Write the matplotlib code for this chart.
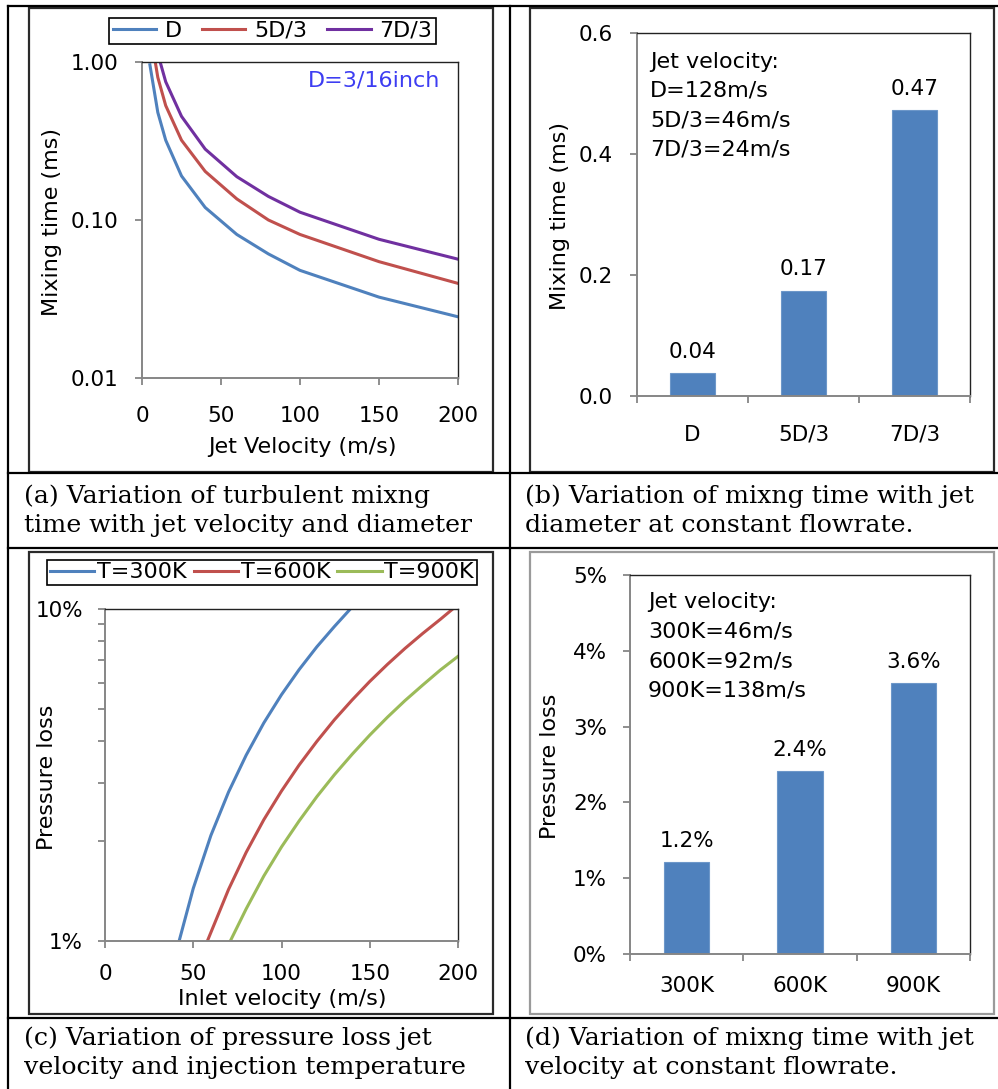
import matplotlib
matplotlib.use("Agg")
import matplotlib.pyplot as plt
from matplotlib.patches import Rectangle
from matplotlib.lines import Line2D
from matplotlib.ticker import FixedLocator, NullLocator, FixedFormatter, NullFormatter

# ---------------- data ----------------
# (a) mixing time vs jet velocity
vel_a = [5, 10, 15, 25, 40, 60, 80, 100, 150, 200]
mix_D = [0.96, 0.48, 0.32, 0.19, 0.12, 0.081, 0.061, 0.048, 0.0325, 0.0244]
mix_5D3 = [1.6, 0.8, 0.53, 0.32, 0.203, 0.136, 0.1, 0.081, 0.0545, 0.0397]
mix_7D3 = [2.25, 1.13, 0.75, 0.453, 0.281, 0.188, 0.141, 0.112, 0.0755, 0.0565]
names_a = ["D", "5D/3", "7D/3"]
yticks_a = [0.01, 0.1, 1.0]
yticklabels_a = ["0.01", "0.10", "1.00"]
xticks_ac = [0, 50, 100, 150, 200]

# (b) mixing time vs jet diameter
cats_b = ["D", "5D/3", "7D/3"]
vals_b = [0.038, 0.174, 0.473]
labels_b = ["0.04", "0.17", "0.47"]
yticks_b = [0.0, 0.2, 0.4, 0.6]
note_b = ["Jet velocity:", "D=128m/s", "5D/3=46m/s", "7D/3=24m/s"]

# (c) pressure loss vs inlet velocity (percent)
vel_300 = [42, 50, 60, 70, 80, 90, 100, 110, 120, 130, 139]
loss_300 = [1.0, 1.44, 2.08, 2.81, 3.63, 4.54, 5.52, 6.57, 7.69, 8.86, 10.0]
vel_600 = [58, 70, 80, 90, 100, 110, 120, 130, 140, 150, 160, 170, 180, 190, 197]
loss_600 = [1.0, 1.43, 1.85, 2.32, 2.83, 3.39, 3.99, 4.64, 5.32, 6.05, 6.81, 7.61, 8.44, 9.31, 10.0]
vel_900 = [71, 80, 90, 100, 110, 120, 130, 140, 150, 160, 170, 180, 190, 200]
loss_900 = [1.0, 1.25, 1.57, 1.92, 2.3, 2.72, 3.17, 3.65, 4.17, 4.72, 5.3, 5.9, 6.55, 7.2]
names_c = ["T=300K", "T=600K", "T=900K"]

# (d) pressure loss vs injection temperature (percent)
cats_d = ["300K", "600K", "900K"]
vals_d = [1.21, 2.41, 3.57]
labels_d = ["1.2%", "2.4%", "3.6%"]
yticks_d = [0, 1, 2, 3, 4, 5]
note_d = ["Jet velocity:", "300K=46m/s", "600K=92m/s", "900K=138m/s"]

captions = {
    "a": ["(a) Variation of turbulent mixng", "time with jet velocity and diameter"],
    "b": ["(b) Variation of mixng time with jet", "diameter at constant flowrate."],
    "c": ["(c) Variation of pressure loss jet", "velocity and injection temperature"],
    "d": ["(d) Variation of mixng time with jet", "velocity at constant flowrate."],
}

# ---------------- styling ----------------
BLUE, RED, PURPLE, GREEN = "#4F81BD", "#C0504D", "#7030A0", "#9BBB59"
AXGRAY = "#868686"
FS_TICK = 15.5
FS = 16
FS_CAP = 18.2
plt.rcParams["font.family"] = ["DejaVu Sans"]
SERIF = ["DejaVu Serif"]

W, H = 998, 1089
fig = plt.figure(figsize=(W / 100, H / 100), dpi=100)


def rect(x0, y0, x1, y1):
    return [x0 / W, 1 - y1 / H, (x1 - x0) / W, (y1 - y0) / H]


def fx(x):
    return x / W


def fy(y):
    return 1 - y / H


def style(ax, xpad, ypad):
    for s in ["top", "right"]:
        ax.spines[s].set_color("#222222")
        ax.spines[s].set_linewidth(1.0)
    for s in ["left", "bottom"]:
        ax.spines[s].set_color(AXGRAY)
        ax.spines[s].set_linewidth(1.4)
    ax.tick_params(which="both", direction="out", color=AXGRAY, width=1.3, length=5,
                   labelsize=FS_TICK, labelcolor="black", top=False, right=False)
    ax.tick_params(axis="y", which="both", pad=ypad)
    ax.tick_params(axis="x", which="both", pad=xpad)


# ---------------- table lines & chart frames ----------------
for x in [8, 510]:
    fig.add_artist(Line2D([fx(x), fx(x)], [fy(6), fy(1089)], color="black", lw=1.6,
                          transform=fig.transFigure))
for y in [6, 473, 548, 1018]:
    fig.add_artist(Line2D([fx(8), fx(998)], [fy(y), fy(y)], color="black", lw=1.6,
                          transform=fig.transFigure))

frames = [((29, 8, 493, 472), "#2a2a2a"), ((530, 8, 994, 472), "#2a2a2a"),
          ((29, 552, 493, 1014), "#2a2a2a"), ((530, 552, 994, 1014), "#9a9a9a")]
for (x0, y0, x1, y1), c in frames:
    fig.add_artist(Rectangle((fx(x0), fy(y1)), (x1 - x0) / W, (y1 - y0) / H,
                             fill=False, edgecolor=c, lw=1.6, transform=fig.transFigure))

# ---------------- (a) ----------------
axA = fig.add_axes(rect(142, 62, 458, 378))
lines = []
for yv, c in zip([mix_D, mix_5D3, mix_7D3], [BLUE, RED, PURPLE]):
    ln, = axA.plot(vel_a, yv, color=c, lw=2.2)
    lines.append(ln)
axA.set_yscale("log")
axA.set_ylim(0.01, 1.0)
axA.set_xlim(0, 200)
axA.yaxis.set_major_locator(FixedLocator(yticks_a))
axA.yaxis.set_major_formatter(FixedFormatter(yticklabels_a))
axA.yaxis.set_minor_locator(NullLocator())
axA.set_xticks(xticks_ac)
style(axA, xpad=14.9, ypad=12.2)
legA = axA.legend(lines, names_a, loc="center", bbox_to_anchor=(fx(272.5), fy(31)),
                  bbox_transform=fig.transFigure, ncol=3, frameon=True, fancybox=False,
                  edgecolor="black", framealpha=1, fontsize=FS, handlelength=1.95,
                  handletextpad=0.4, columnspacing=0.9, borderpad=0.15, borderaxespad=0)
legA.get_frame().set_linewidth(1.2)
fig.text(fx(440), fy(81), "D=3/16inch", ha="right", va="center", color="#3d3df2", fontsize=FS)
fig.text(fx(52), fy(222), "Mixing time (ms)", rotation=90, ha="center", va="center", fontsize=FS)
fig.text(fx(302), fy(447), "Jet Velocity (m/s)", ha="center", va="center", fontsize=FS)

# ---------------- (b) ----------------
axB = fig.add_axes(rect(637, 33, 970, 396))
xb = list(range(len(cats_b)))
axB.bar(xb, vals_b, width=0.4, color=BLUE, edgecolor="#6d97c9", lw=0.8)
for i, (v, t) in enumerate(zip(vals_b, labels_b)):
    axB.annotate(t, (i, v), xytext=(0, 11), textcoords="offset points", ha="center",
                 va="baseline", fontsize=FS_TICK)
axB.set_ylim(0, 0.6)
axB.set_xlim(-0.5, 2.5)
axB.set_yticks(yticks_b)
axB.set_yticklabels([f"{t:.1f}" for t in yticks_b])
axB.set_xticks(xb)
axB.set_xticklabels(cats_b)
axB.xaxis.set_minor_locator(FixedLocator([-0.5, 0.5, 1.5, 2.5]))
style(axB, xpad=20.7, ypad=12.2)
axB.tick_params(axis="x", which="major", length=0)
for i, t in enumerate(note_b):
    fig.text(fx(650), fy(67.5 + 29.3 * i), t, ha="left", va="baseline", fontsize=FS)
fig.text(fx(560), fy(216), "Mixing time (ms)", rotation=90, ha="center", va="center", fontsize=FS)

# ---------------- (c) ----------------
axC = fig.add_axes(rect(105, 609, 458, 941))
lc = []
for xv, yv, c in zip([vel_300, vel_600, vel_900], [loss_300, loss_600, loss_900], [BLUE, RED, GREEN]):
    ln, = axC.plot(xv, yv, color=c, lw=2.2)
    lc.append(ln)
axC.set_yscale("log")
axC.set_ylim(1, 10)
axC.set_xlim(0, 200)
axC.yaxis.set_major_locator(FixedLocator([1, 10]))
axC.yaxis.set_major_formatter(FixedFormatter(["1%", "10%"]))
axC.yaxis.set_minor_locator(FixedLocator([2, 3, 4, 5, 6, 7, 8, 9]))
axC.yaxis.set_minor_formatter(NullFormatter())
axC.set_xticks(xticks_ac)
style(axC, xpad=11.5, ypad=10.8)
legC = axC.legend(lc, names_c, loc="center", bbox_to_anchor=(fx(262), fy(572.5)),
                  bbox_transform=fig.transFigure, ncol=3, frameon=True, fancybox=False,
                  edgecolor="black", framealpha=1, fontsize=FS, handlelength=2.0,
                  handletextpad=0.13, columnspacing=0.3, borderpad=0.12, borderaxespad=0)
legC.get_frame().set_linewidth(1.2)
fig.text(fx(47), fy(777), "Pressure loss", rotation=90, ha="center", va="center", fontsize=FS)
fig.text(fx(282), fy(999), "Inlet velocity (m/s)", ha="center", va="center", fontsize=FS)

# ---------------- (d) ----------------
axD = fig.add_axes(rect(630, 575, 970, 954))
xd = list(range(len(cats_d)))
axD.bar(xd, vals_d, width=0.4, color=BLUE, edgecolor="#6d97c9", lw=0.8)
for i, (v, t) in enumerate(zip(vals_d, labels_d)):
    axD.annotate(t, (i, v), xytext=(0, 11), textcoords="offset points", ha="center",
                 va="baseline", fontsize=FS_TICK)
axD.set_ylim(0, 5)
axD.set_xlim(-0.5, 2.5)
axD.set_yticks(yticks_d)
axD.set_yticklabels([f"{t}%" for t in yticks_d])
axD.set_xticks(xd)
axD.set_xticklabels(cats_d)
axD.xaxis.set_minor_locator(FixedLocator([-0.5, 0.5, 1.5, 2.5]))
style(axD, xpad=15.9, ypad=11.5)
axD.tick_params(axis="x", which="major", length=0)
for i, t in enumerate(note_d):
    fig.text(fx(648), fy(608.5 + 29.3 * i), t, ha="left", va="baseline", fontsize=FS)
fig.text(fx(550), fy(766), "Pressure loss", rotation=90, ha="center", va="center", fontsize=FS)

# ---------------- captions ----------------
cap_pos = {"a": (24, 503), "b": (525, 503), "c": (24, 1045), "d": (525, 1045)}
for k, (x, y) in cap_pos.items():
    for j, t in enumerate(captions[k]):
        fig.text(fx(x), fy(y + 29 * j), t, ha="left", va="baseline", fontsize=FS_CAP,
                 family=SERIF, color="black")

fig.savefig("out.png", dpi=100)
